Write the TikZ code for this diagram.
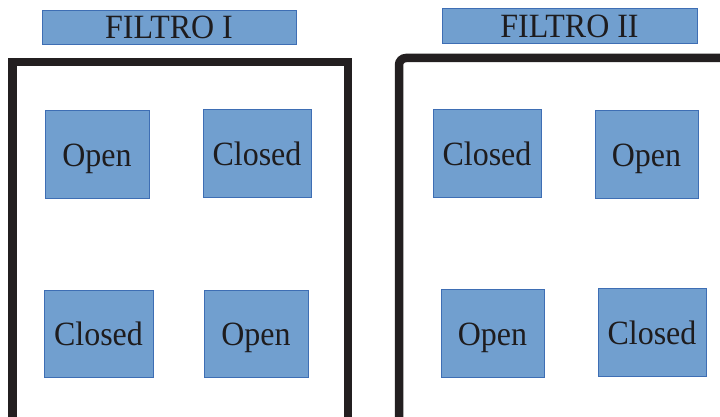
\documentclass[tikz,border=0pt]{standalone}
\usepackage{fontspec}
\setmainfont{Liberation Serif}[FakeStretch=0.94]
\definecolor{boxfill}{RGB}{113,159,207}
\definecolor{boxline}{RGB}{62,110,180}
\definecolor{framecol}{RGB}{35,31,32}
\definecolor{txtcol}{RGB}{30,28,30}
\begin{document}
\begin{tikzpicture}[x=1pt,y=-1pt,
  box/.style={draw=boxline, line width=0.9pt, fill=boxfill, inner sep=0pt,
    text=txtcol, font=\fontsize{34}{40}\selectfont, text height=24pt, text depth=0pt},
  frame/.style={draw=framecol, line width=8.5pt}]
\useasboundingbox (0,0) rectangle (720,417);
\clip (0,0) rectangle (720,417);
% frames
\draw[frame, line join=miter] (12.5,430) -- (12.5,62) -- (348,62) -- (348,430);
\draw[frame, rounded corners=7pt] (399,430) -- (399,58) -- (730,58);
% titles
\node[box, minimum width=254pt, minimum height=34pt] (t1) at (169,27) {FILTRO I};
\node[box, minimum width=255pt, minimum height=35pt] (t2) at (569.5,25.5) {FILTRO II};
% filter I
\node[box, minimum width=104pt, minimum height=88pt] (a1) at (97,154) {Open};
\node[box, minimum width=108pt, minimum height=88pt] (a2) at (257,153) {Closed};
\node[box, minimum width=109pt, minimum height=87pt] (a3) at (98.5,333.5) {Closed};
\node[box, minimum width=104pt, minimum height=87pt] (a4) at (256,333.5) {Open};
% filter II
\node[box, minimum width=108pt, minimum height=88pt] (b1) at (487,153) {Closed};
\node[box, minimum width=103pt, minimum height=88pt] (b2) at (646.5,154) {Open};
\node[box, minimum width=103pt, minimum height=88pt] (b3) at (492.5,333) {Open};
\node[box, minimum width=108pt, minimum height=88pt] (b4) at (652,332) {Closed};
\end{tikzpicture}
\end{document}
